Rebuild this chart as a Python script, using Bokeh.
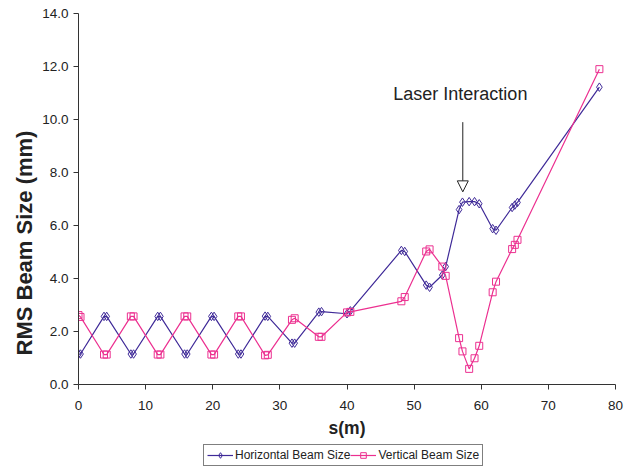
from bokeh.plotting import figure
from bokeh.layouts import column
from bokeh.models import (Range1d, FixedTicker, PrintfTickFormatter, Legend, LegendItem,
                          Label, Arrow, NormalHead, ColumnDataSource, Title)
from bokeh.embed import file_html
from bokeh.resources import INLINE

# ---- data ----
s_pos = [0.0, 0.3, 3.8, 4.2, 7.8, 8.2, 11.8, 12.2, 15.8, 16.2, 19.8, 20.2,
         23.8, 24.2, 27.8, 28.2, 31.8, 32.2, 35.8, 36.2, 40.0, 40.5,
         48.1, 48.6, 51.8, 52.3, 54.2, 54.7, 56.7, 57.2, 58.2, 59.0, 59.7,
         61.7, 62.2, 64.6, 65.0, 65.4, 77.6]
horizontal = [1.15, 1.15, 2.57, 2.57, 1.15, 1.15, 2.57, 2.57, 1.15, 1.15, 2.57, 2.57,
              1.15, 1.15, 2.58, 2.57, 1.56, 1.56, 2.73, 2.75, 2.67, 2.78,
              5.06, 5.02, 3.75, 3.67, 4.13, 4.45, 6.60, 6.88, 6.90, 6.90, 6.82,
              5.88, 5.82, 6.68, 6.77, 6.87, 11.22]
vertical = [2.62, 2.55, 1.13, 1.13, 2.57, 2.57, 1.13, 1.13, 2.57, 2.57, 1.13, 1.13,
            2.57, 2.57, 1.10, 1.12, 2.44, 2.50, 1.80, 1.80, 2.72, 2.74,
            3.14, 3.30, 5.02, 5.10, 4.45, 4.10, 1.75, 1.25, 0.59, 0.99, 1.46,
            3.48, 3.88, 5.11, 5.27, 5.46, 11.90]

x_ticks = [0, 10, 20, 30, 40, 50, 60, 70, 80]
y_ticks = [0, 2, 4, 6, 8, 10, 12, 14]

series_names = ["Horizontal Beam Size", "Vertical Beam Size"]
annotation_text = "Laser Interaction"
annot_x, annot_y = 46.9, 10.97
arrow_x, arrow_y_start, arrow_y_end = 57.25, 9.9, 7.27

H_COLOR = "#3F2A98"
V_COLOR = "#EC3090"
FONT = "Liberation Sans"
TXT = "#222222"

src = ColumnDataSource(dict(s=s_pos, h=horizontal, v=vertical))

p = figure(width=631, height=440, output_backend="svg", toolbar_location=None,
           x_range=Range1d(0, 80), y_range=Range1d(0, 14),
           min_border_left=78, min_border_right=16, min_border_top=13, min_border_bottom=55)
p.outline_line_color = None
p.xgrid.visible = False
p.ygrid.visible = False

p.line("s", "h", source=src, line_color=H_COLOR, line_width=1.2)
p.scatter("s", "h", source=src, marker="diamond", size=8.5, fill_color=None,
          line_color=H_COLOR, line_width=1)
p.line("s", "v", source=src, line_color=V_COLOR, line_width=1.2)
p.scatter("s", "v", source=src, marker="square", size=7, fill_color=None,
          line_color=V_COLOR, line_width=1)

for ax in (p.xaxis[0], p.yaxis[0]):
    ax.axis_line_color = "#333333"
    ax.major_tick_line_color = "#333333"
    ax.major_tick_out = 5
    ax.major_tick_in = 0
    ax.minor_tick_line_color = None
    ax.major_label_text_font = FONT
    ax.major_label_text_font_size = "13.5px"
    ax.major_label_text_color = TXT

p.xaxis.ticker = FixedTicker(ticks=x_ticks)
p.yaxis.ticker = FixedTicker(ticks=y_ticks)
p.yaxis.formatter = PrintfTickFormatter(format="%.1f")
p.xaxis.major_label_standoff = 11
p.yaxis.major_label_standoff = 5

p.xaxis.axis_label = "s(m)"
p.xaxis.axis_label_text_font = FONT
p.xaxis.axis_label_text_font_style = "bold"
p.xaxis.axis_label_text_font_size = "17.5px"
p.xaxis.axis_label_text_color = TXT
p.xaxis.axis_label_standoff = 5

ytitle = Title(text="RMS Beam Size (mm)", align="left", offset=29, standoff=6,
               text_font=FONT, text_font_style="bold", text_font_size="22px",
               text_color=TXT)
p.add_layout(ytitle, "left")

annot = Label(x=annot_x, y=annot_y, text=annotation_text, text_align="left",
              text_baseline="alphabetic", text_font=FONT, text_font_size="18px",
              text_color=TXT)
p.add_layout(annot)

p.add_layout(Arrow(end=NormalHead(size=11, fill_color="white", line_color=TXT, line_width=1),
                   x_start=arrow_x, y_start=arrow_y_start, x_end=arrow_x, y_end=arrow_y_end,
                   line_color=TXT, line_width=1))

# legend strip (its dummy glyphs sit outside the strip's visible range)
q = figure(width=631, height=28, output_backend="svg", toolbar_location=None,
           x_axis_location=None, y_axis_location=None,
           x_range=Range1d(0, 1), y_range=Range1d(0, 1), min_border=0)
q.outline_line_color = None
q.xgrid.visible = False
q.ygrid.visible = False
e = ColumnDataSource(dict(x=[5, 6], y=[5, 6]))
ql1 = q.line("x", "y", source=e, line_color=H_COLOR, line_width=1.2)
qm1 = q.scatter("x", "y", source=e, marker="diamond", size=8, fill_color=None, line_color=H_COLOR)
ql2 = q.line("x", "y", source=e, line_color=V_COLOR, line_width=1.2)
qm2 = q.scatter("x", "y", source=e, marker="square", size=7, fill_color=None, line_color=V_COLOR)

legend = Legend(items=[LegendItem(label=series_names[0], renderers=[ql1, qm1]),
                       LegendItem(label=series_names[1], renderers=[ql2, qm2])],
                orientation="horizontal", location=(125, 2),
                label_text_font=FONT, label_text_font_size="12px", label_text_color=TXT,
                label_standoff=2, glyph_width=26, glyph_height=14, label_height=14,
                padding=3, spacing=0, margin=0,
                border_line_color="black", border_line_width=1,
                background_fill_color="white")
q.add_layout(legend)

open("out.html", "w").write(file_html(column(p, q, spacing=0), INLINE))
